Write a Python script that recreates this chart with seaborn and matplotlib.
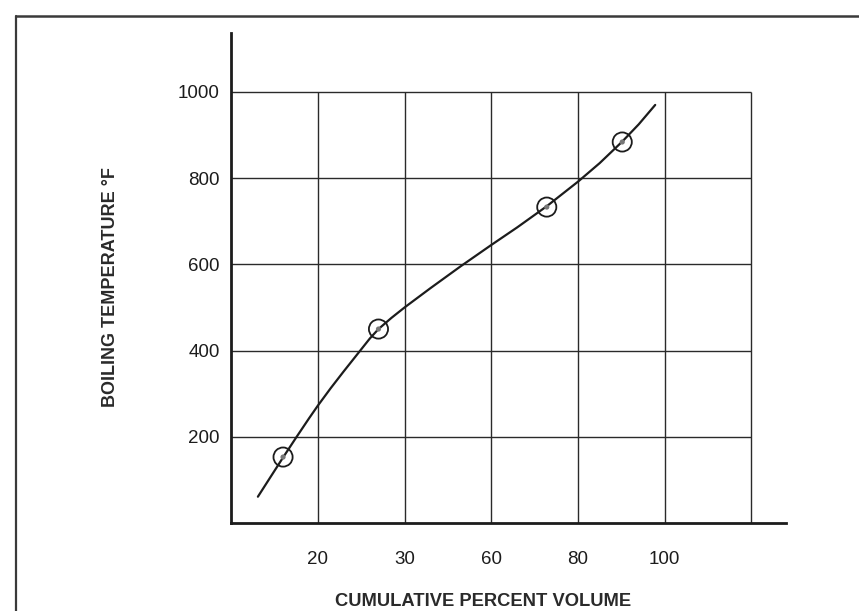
import matplotlib
matplotlib.use("Agg")
import matplotlib.pyplot as plt
from matplotlib.lines import Line2D
import pandas as pd
import seaborn as sns

# Horizontal axis uses evenly spaced divisions labelled with these volumes
x_tick_pos = [1, 2, 3, 4, 5]
x_tick_labels = ["20", "30", "60", "80", "100"]
y_ticks = [200, 400, 600, 800, 1000]

# Smooth boiling-point curve (position along the division scale, °F)
curve_pos = [0.31, 0.45, 0.60, 0.75, 0.90, 1.00, 1.15, 1.30, 1.45, 1.60, 1.70,
             1.85, 2.00, 2.30, 2.65, 3.00, 3.30, 3.64, 4.00, 4.25, 4.51, 4.70, 4.89]
curve_temp = [61, 105, 152, 198, 243, 272, 313, 352, 390, 428, 450,
              476, 500, 545, 596, 645, 686, 735, 792, 835, 885, 925, 970]

# Measured points marked with circles
point_pos = [0.60, 1.70, 3.64, 4.51]
point_temp = [153, 450, 733, 884]

sns.set_theme(style="white")
plt.rcParams["font.family"] = ["Liberation Sans", "DejaVu Sans"]

ink = "#1c1c1c"
fig = plt.figure(figsize=(8.59, 6.11), dpi=100)
W, H = 859, 611
ax = fig.add_axes([231 / W, (H - 523) / H, (786 - 231) / W, (523 - 33) / H])

curve = pd.DataFrame({"pos": curve_pos, "temp": curve_temp})
points = pd.DataFrame({"pos": point_pos, "temp": point_temp})

# Grid box: vertical and horizontal division lines up to the 1000 °F line
ax.vlines([1, 2, 3, 4, 5, 6], 0, 1000, color="#2a2a2a", lw=1.0, zorder=1)
ax.hlines(y_ticks, 0, 6, color="#2a2a2a", lw=1.0, zorder=1)

sns.lineplot(data=curve, x="pos", y="temp", ax=ax, color=ink, lw=1.6,
             sort=False, zorder=3)
sns.scatterplot(data=points, x="pos", y="temp", ax=ax, s=190, marker="o",
                facecolor="none", edgecolor=ink, linewidth=1.3, zorder=4)
sns.scatterplot(data=points, x="pos", y="temp", ax=ax, s=14, marker="o",
                color="#777777", edgecolor="none", zorder=5)

ax.set_xlim(0, (786 - 231) / 86.75)
ax.set_ylim(0, (523 - 33) / 0.431)

ax.set_xticks(x_tick_pos)
ax.set_xticklabels(x_tick_labels)
ax.set_yticks(y_ticks)
ax.set_yticklabels([str(v) for v in y_ticks])
ax.tick_params(axis="both", length=0, labelsize=13.5, colors=ink)
ax.tick_params(axis="x", pad=20)
ax.tick_params(axis="y", pad=8)

for side in ["top", "right"]:
    ax.spines[side].set_visible(False)
for side in ["left", "bottom"]:
    ax.spines[side].set_color(ink)
    ax.spines[side].set_linewidth(2.0)

ax.set_xlabel("")
ax.set_ylabel("")
fig.text(483 / W, 1 - 601 / H, "CUMULATIVE PERCENT VOLUME", ha="center",
         va="center", fontsize=13.2, fontweight="bold", color="#2a2a2a")
fig.text(111 / W, 1 - 287 / H, "BOILING TEMPERATURE °F", ha="center",
         va="center", rotation=90, fontsize=13.0, fontweight="bold",
         color="#2a2a2a")

# Outer frame around the figure
fig.add_artist(Line2D([16 / W, 16 / W], [0, 1 - 16 / H], transform=fig.transFigure,
                      color="#3a3a3a", lw=1.6))
fig.add_artist(Line2D([16 / W, 1], [1 - 16 / H, 1 - 16 / H], transform=fig.transFigure,
                      color="#3a3a3a", lw=1.8))

fig.savefig("out.png", dpi=100, facecolor="white")
